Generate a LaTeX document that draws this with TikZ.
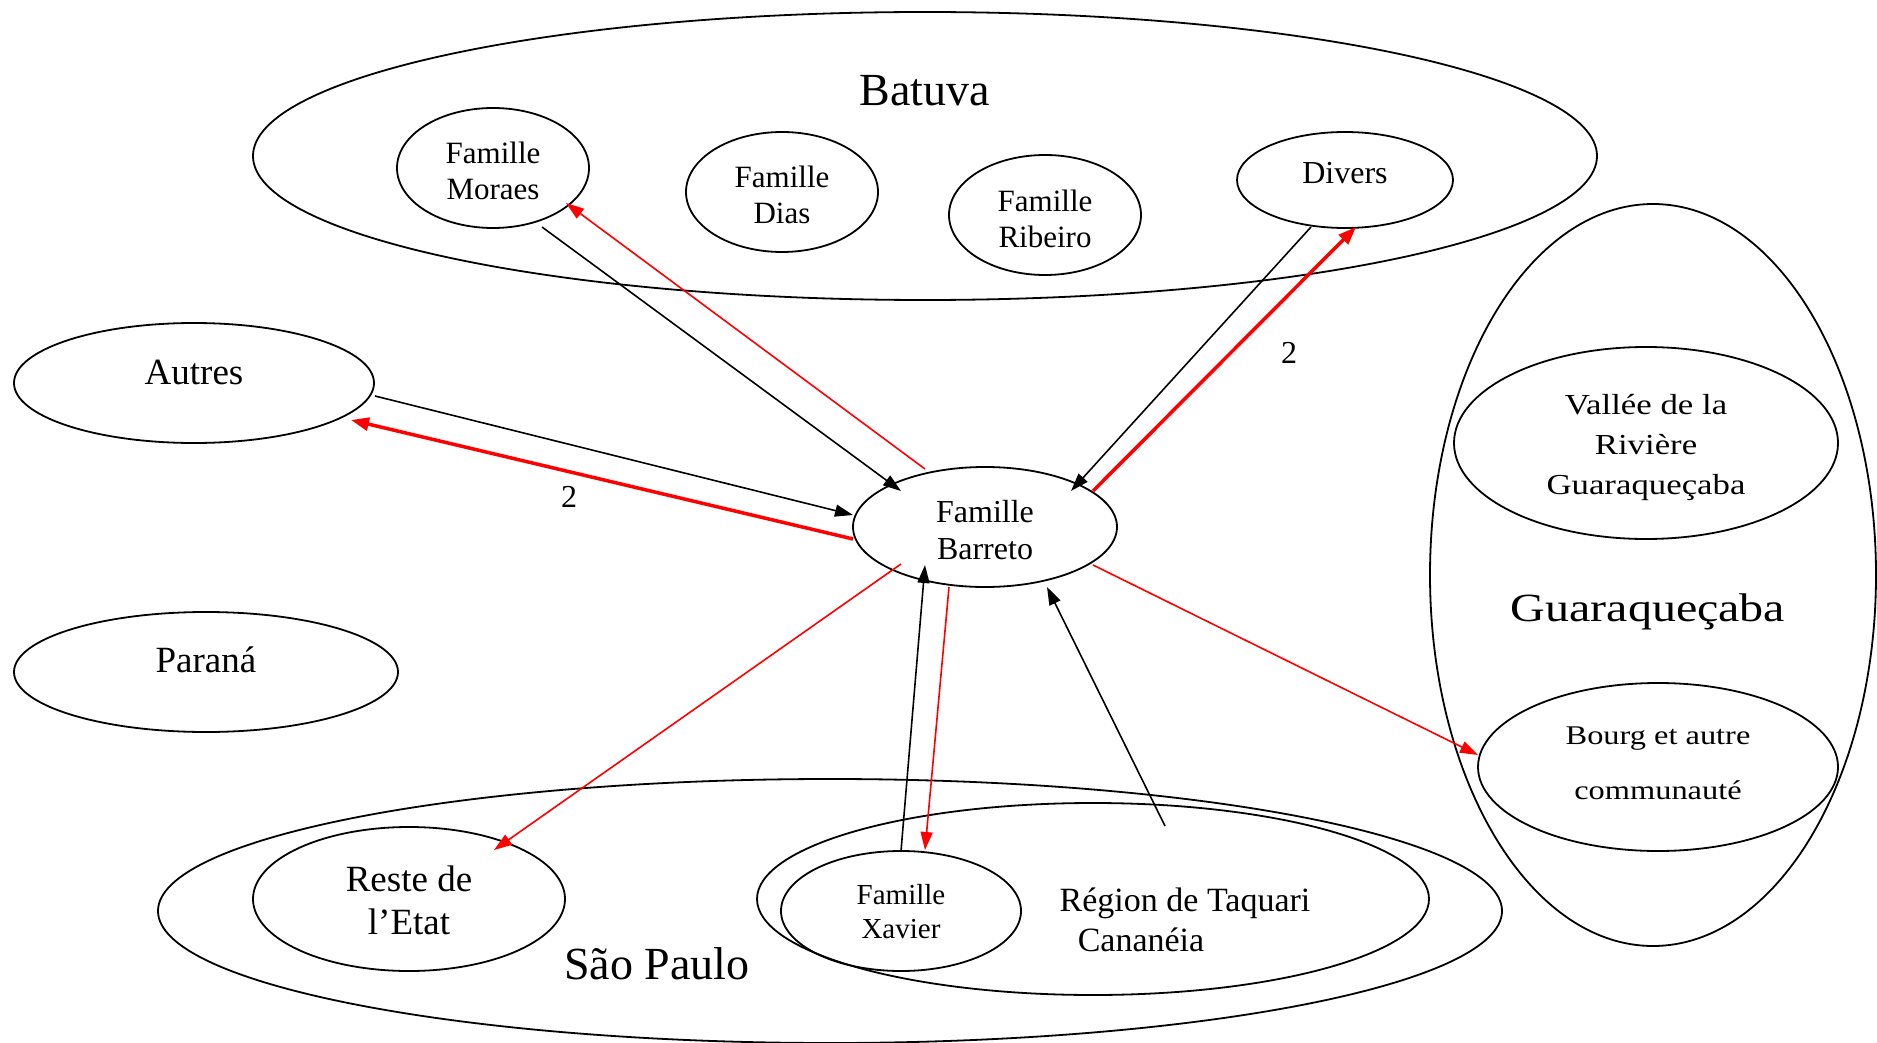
\documentclass[tikz,border=0pt]{standalone}
\usepackage{fontspec}
\usepackage{graphicx}
\setmainfont{Liberation Serif}
\usetikzlibrary{arrows.meta,shapes.geometric}
\begin{document}
\begin{tikzpicture}[x=1pt,y=-1pt,
  ell/.style={draw, ellipse, line width=1.8pt, inner sep=0pt, outer sep=0pt},
  txt/.style={inner sep=0pt, align=center},
  blk/.style={line width=1.6pt, -{Triangle[length=18pt,width=12pt]}},
  redthin/.style={red, line width=1.6pt, -{Triangle[length=18pt,width=12pt]}},
  redthick/.style={red, line width=3.5pt, -{Triangle[length=18pt,width=13pt]}},
  fam/.style={txt, font=\fontsize{31}{36}\selectfont}
]
\useasboundingbox (0,0) rectangle (1877,1043);
% large regions
\node[ell, minimum width=1344pt, minimum height=288pt] (batuva) at (925,156) {};
\node[txt, font=\fontsize{46}{50}\selectfont] (batuvat) at (925,91) {Batuva};
\node[ell, minimum width=446pt, minimum height=742pt] (guara) at (1653,575) {};
\node[txt, font=\fontsize{40}{44}\selectfont] (guarat) at (1648,612) {\scalebox{1.2}[1]{Guaraqueçaba}};
\node[ell, minimum width=1344pt, minimum height=264pt] (saopaulo) at (830,911) {};
\node[txt, font=\fontsize{46}{50}\selectfont] (saopaulot) at (657,964) {São Paulo};
\node[ell, minimum width=672pt, minimum height=192pt] (region) at (1093,899) {};
\node[txt, font=\fontsize{34}{40}\selectfont] (regiont1) at (1185,903) {Région de Taquari};
\node[txt, font=\fontsize{34}{40}\selectfont] (regiont2) at (1141,940) {Cananéia};
% families in Batuva
\node[ell, minimum width=192pt, minimum height=120pt] (moraes) at (493,168) {};
\node[fam] (moraest) at (493,170.5) {Famille\\Moraes};
\node[ell, minimum width=192pt, minimum height=120pt] (dias) at (782,192) {};
\node[fam] (diast) at (782,194.5) {Famille\\Dias};
\node[ell, minimum width=192pt, minimum height=120pt] (ribeiro) at (1045,215) {};
\node[fam] (ribeirot) at (1045,218.5) {Famille\\Ribeiro};
\node[ell, minimum width=216pt, minimum height=96pt] (divers) at (1345,180) {};
\node[txt, font=\fontsize{32}{36}\selectfont] (diverst) at (1345,173) {Divers};
% left side
\node[ell, minimum width=360pt, minimum height=120pt] (autres) at (194,383) {};
\node[txt, font=\fontsize{37}{40}\selectfont] (autrest) at (194,372) {Autres};
\node[ell, minimum width=384pt, minimum height=120pt] (parana) at (206,672) {};
\node[txt, font=\fontsize{37}{40}\selectfont] (paranat) at (206,660) {Paraná};
% centre
\node[ell, minimum width=264pt, minimum height=120pt] (barreto) at (985,527) {};
\node[txt, font=\fontsize{32}{37}\selectfont] (barretot) at (985,530.5) {Famille\\Barreto};
% Guaraqueçaba parts
\node[ell, minimum width=384pt, minimum height=192pt] (vallee) at (1646,443) {};
\node[txt, font=\fontsize{29}{40}\selectfont] (valleet) at (1646,446.5) {\scalebox{1.2}[1]{\begin{tabular}{@{}c@{}}Vallée de la\\Rivière\\Guaraqueçaba\end{tabular}}};
\node[ell, minimum width=360pt, minimum height=168pt] (bourg) at (1658,767) {};
\node[txt, font=\fontsize{27}{55}\selectfont] (bourgt) at (1658,761) {\scalebox{1.2}[1]{\begin{tabular}{@{}c@{}}Bourg et autre\\communauté\end{tabular}}};
% São Paulo parts
\node[ell, minimum width=312pt, minimum height=144pt] (reste) at (409,899) {};
\node[txt, font=\fontsize{37}{43}\selectfont] (restet) at (409,900) {Reste de\\l’Etat};
\node[ell, minimum width=240pt, minimum height=120pt] (xavier) at (901,911) {};
\node[txt, font=\fontsize{29}{34}\selectfont] (xaviert) at (901,912) {Famille\\Xavier};
% connectors
\draw[blk] ([shift={(49,59)}]moraes.center) -- ([shift={(-84,-36)}]barreto.center);
\draw[redthin] ([shift={(-60,-58)}]barreto.center) -- ([shift={(73,35)}]moraes.center);
\draw[blk] ([shift={(181,13)}]autres.center) -- ([shift={(-132,-12)}]barreto.center);
\draw[redthick] ([shift={(-132,12)}]barreto.center) -- ([shift={(157,37)}]autres.center);
\node[txt, font=\fontsize{32}{36}\selectfont] (lab1) at (569,497) {2};
\draw[blk] ([shift={(-34,47)}]divers.center) -- ([shift={(86,-36)}]barreto.center);
\draw[redthick] ([shift={(108,-36)}]barreto.center) -- ([shift={(11,47)}]divers.center);
\node[txt, font=\fontsize{32}{36}\selectfont] (lab2) at (1289,353) {2};
\draw[redthin] ([shift={(108,38)}]barreto.center) -- ([shift={(-180,-12)}]bourg.center);
\draw[redthin] ([shift={(-84,37)}]barreto.center) -- ([shift={(85,-49)}]reste.center);
\draw[blk] (xavier.north) -- ([shift={(-60,38)}]barreto.center);
\draw[redthin] ([shift={(-36,60)}]barreto.center) -- ([shift={(24,-61)}]xavier.center);
\draw[blk] ([shift={(72,-73)}]region.center) -- ([shift={(62,60)}]barreto.center);
\end{tikzpicture}
\end{document}
